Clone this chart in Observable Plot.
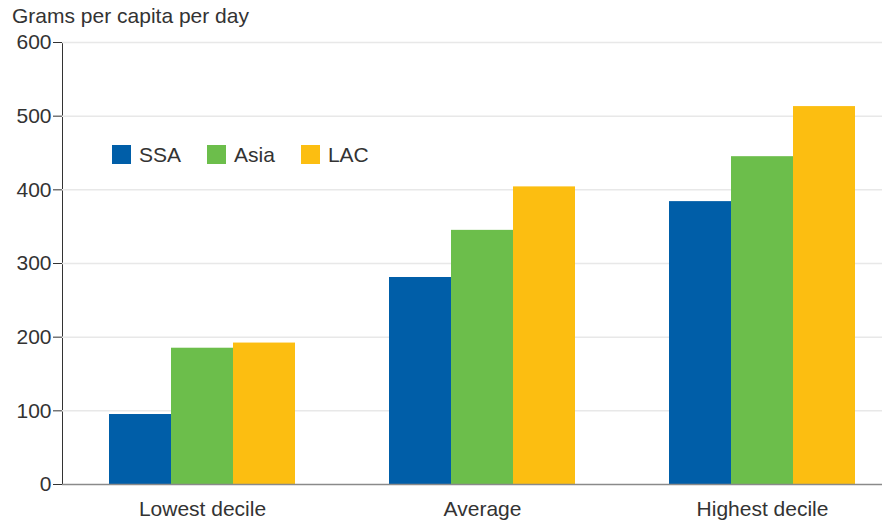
<!DOCTYPE html>
<html><head><meta charset="utf-8">
<script src="https://cdn.jsdelivr.net/npm/d3@7"></script>
<script src="https://cdn.jsdelivr.net/npm/@observablehq/plot@0.6"></script>
<style>
body{margin:0;background:#fff;font-family:"Liberation Sans",Arial,sans-serif;}
#wrap{position:relative;width:882px;height:523px;overflow:hidden;}
#title{position:absolute;left:12px;top:5px;font-size:21px;line-height:21px;color:#333;white-space:nowrap;}
#legend{position:absolute;left:112px;top:145px;display:flex;align-items:center;font-size:21px;line-height:19px;color:#333;}
.item{display:flex;align-items:center;margin-right:26px;}
.sw{width:19px;height:19px;margin-right:8px;}
#chart{position:absolute;left:0;top:0;width:902px;}
#chart svg{max-width:none !important;width:902px !important;height:523px !important;}
#chart [aria-label="y-axis tick"]{stroke:#888;}
#chart [aria-label="y-axis line"], #chart [aria-label="y-axis rule"]{stroke:#888;}
</style></head>
<body>
<div id="wrap">
  <div id="chart"></div>
  <div id="title"></div>
  <div id="legend"></div>
</div>
<script>
const titleText = "Grams per capita per day";
const categories = ["Lowest decile", "Average", "Highest decile"];
const series = ["SSA", "Asia", "LAC"];
const ssaValues = [95, 281, 384];
const asiaValues = [185, 345, 445];
const lacValues = [192, 404, 513];
const yTicks = [0, 100, 200, 300, 400, 500, 600];
const colors = ["#005EA8", "#6CBE4B", "#FCBE11"];

const valuesBySeries = [ssaValues, asiaValues, lacValues];
const data = [];
categories.forEach((c, i) => series.forEach((s, j) => data.push({category: c, series: s, value: valuesBySeries[j][i]})));

document.getElementById("title").textContent = titleText;
const legend = document.getElementById("legend");
series.forEach((s, j) => {
  const it = document.createElement("div"); it.className = "item";
  const sw = document.createElement("div"); sw.className = "sw"; sw.style.background = colors[j];
  const tx = document.createElement("span"); tx.textContent = s;
  it.appendChild(sw); it.appendChild(tx); legend.appendChild(it);
});

const chart = Plot.plot({
  width: 902,
  height: 523,
  marginLeft: 62,
  marginRight: 0,
  marginTop: 42,
  marginBottom: 39,
  style: {fontFamily: "'Liberation Sans', Arial, sans-serif", fontSize: "21px", color: "#333", background: "transparent", overflow: "visible", maxWidth: "none"},
  facet: {marginTop: 0, marginRight: 0, marginBottom: 0, marginLeft: 0},
  fx: {domain: categories, padding: 0, label: null, tickSize: 0, tickPadding: 17, axis: "bottom"},
  x: {domain: series, paddingInner: 0, paddingOuter: 0.747, axis: null},
  y: {domain: [0, 600], ticks: yTicks, tickSize: 9, tickPadding: 2, label: null, line: true, tickFormat: d => String(d)},
  color: {domain: series, range: colors},
  marks: [
    Plot.ruleY(yTicks.filter(d => d > 0), {stroke: "#e8e8e8", strokeWidth: 1.5}),
    Plot.barY(data, {fx: "category", x: "series", y: "value", fill: "series"}),
    Plot.ruleY([0], {stroke: "#8a8a8a", strokeWidth: 1.5})
  ]
});
document.getElementById("chart").appendChild(chart);
</script>
</body></html>
